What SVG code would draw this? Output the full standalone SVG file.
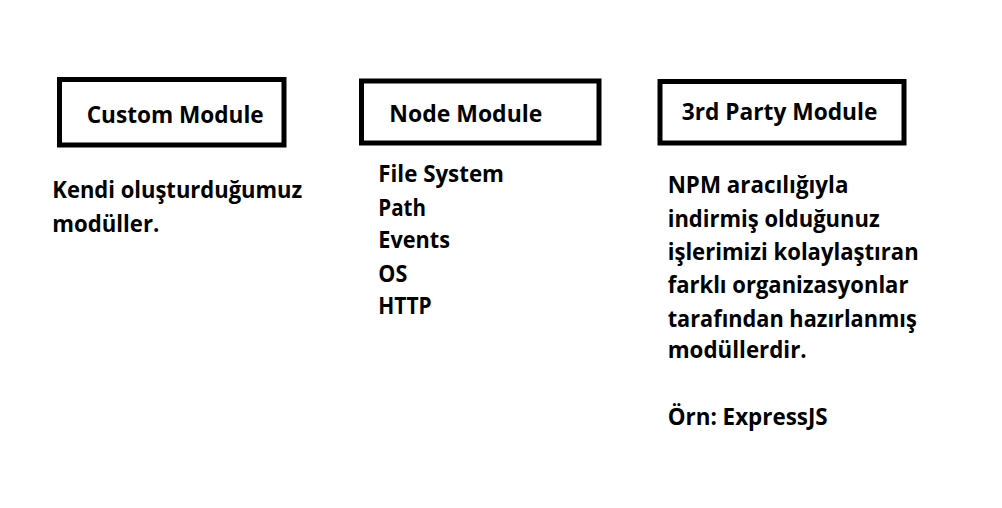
<svg xmlns="http://www.w3.org/2000/svg" width="1002" height="508" viewBox="0 0 1002 508">
<style>
.box{fill:#fff;stroke:#000;stroke-width:5}
text{font-family:"Open Sans","Noto Sans","Liberation Sans",sans-serif;font-weight:bold;font-size:23px;fill:#000}
</style>
<rect width="1002" height="508" fill="#fff"/>
<g id="custom-module">
<rect class="box" x="59.5" y="79.5" width="224.5" height="65.5"/>
<text x="86.7" y="123.3" textLength="177" lengthAdjust="spacingAndGlyphs">Custom Module</text>
<text x="52.3" y="198.3" textLength="250" lengthAdjust="spacingAndGlyphs">Kendi oluşturduğumuz</text>
<text x="52.3" y="232.3" textLength="107" lengthAdjust="spacingAndGlyphs">modüller.</text>
</g>
<g id="node-module">
<rect class="box" x="361.5" y="81" width="237.5" height="62"/>
<text x="389.3" y="121.7" textLength="153" lengthAdjust="spacingAndGlyphs">Node Module</text>
<text x="378.3" y="182.3" textLength="125.7" lengthAdjust="spacingAndGlyphs">File System</text>
<text x="378.3" y="215.7" textLength="47.7" lengthAdjust="spacingAndGlyphs">Path</text>
<text x="378.3" y="248.3" textLength="71.7" lengthAdjust="spacingAndGlyphs">Events</text>
<text x="378.3" y="281.7" textLength="29" lengthAdjust="spacingAndGlyphs">OS</text>
<text x="378.3" y="314.3" textLength="53.4" lengthAdjust="spacingAndGlyphs">HTTP</text>
</g>
<g id="third-party-module">
<rect class="box" x="660" y="81.5" width="244" height="61.5"/>
<text x="681.7" y="120" textLength="195.7" lengthAdjust="spacingAndGlyphs">3rd Party Module</text>
<text x="667.7" y="193.3" textLength="180.7" lengthAdjust="spacingAndGlyphs">NPM aracılığıyla</text>
<text x="667.7" y="226.7" textLength="212" lengthAdjust="spacingAndGlyphs">indirmiş olduğunuz</text>
<text x="667.7" y="260" textLength="251" lengthAdjust="spacingAndGlyphs">işlerimizi kolaylaştıran</text>
<text x="667.7" y="293.3" textLength="240.7" lengthAdjust="spacingAndGlyphs">farklı organizasyonlar</text>
<text x="667.7" y="326.7" textLength="249" lengthAdjust="spacingAndGlyphs">tarafından hazırlanmış</text>
<text x="667.7" y="358.3" textLength="139" lengthAdjust="spacingAndGlyphs">modüllerdir.</text>
<text x="667.7" y="425" textLength="160" lengthAdjust="spacingAndGlyphs">Örn: ExpressJS</text>
</g>
<g id="connectors"></g>
</svg>
